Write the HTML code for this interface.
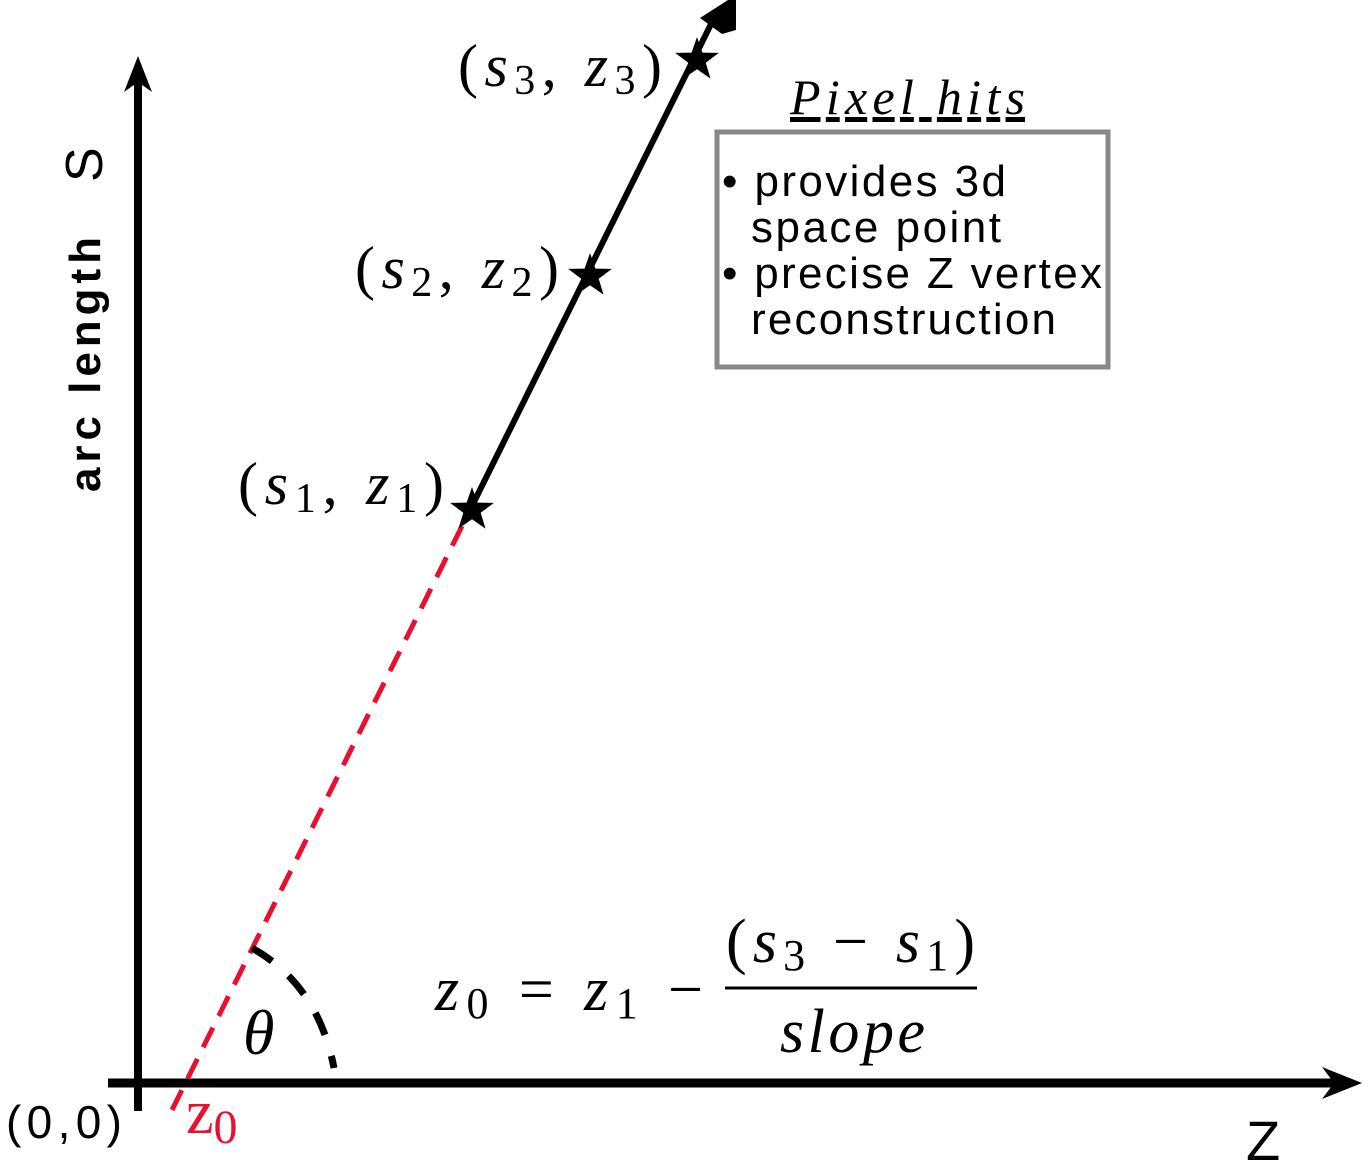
<!DOCTYPE html>
<html><head><meta charset="utf-8"><style>
html,body{margin:0;padding:0;background:#fff;}
svg{display:block;}
.m{font-family:"Liberation Serif",serif;font-style:italic;}
.r{font-family:"Liberation Serif",serif;}
.s{font-family:"Liberation Sans",sans-serif;}
</style></head><body>
<svg width="1372" height="1170" viewBox="0 0 1372 1170" xmlns="http://www.w3.org/2000/svg">
<defs>
<polygon id="star" points="0,-23 5.4,-7.4 21.9,-7.1 8.7,2.8 13.5,18.6 0,9.2 -13.5,18.6 -8.7,2.8 -21.9,-7.1 -5.4,-7.4"/>
</defs>
<line x1="138" y1="1111" x2="138" y2="80" stroke="#000" stroke-width="8"/>
<polygon points="138,56 124,92 138,82 152,92" fill="#000"/>
<line x1="108" y1="1083" x2="1335" y2="1083" stroke="#000" stroke-width="9"/>
<polygon points="1362,1083 1322,1067 1334,1083 1322,1099" fill="#000"/>
<line x1="172" y1="1110" x2="470" y2="510" stroke="#e8102e" stroke-width="5" stroke-dasharray="22,13"/>
<line x1="470" y1="510" x2="716" y2="14" stroke="#000" stroke-width="6"/>
<polygon points="728,0 700,18 722,34 736,30 736,0" fill="#000"/>
<use href="#star" x="472" y="510" fill="#000"/>
<use href="#star" x="590" y="276" fill="#000"/>
<use href="#star" x="697" y="60" fill="#000"/>
<path d="M252,948 Q318,985 334,1068" fill="none" stroke="#000" stroke-width="7" stroke-dasharray="24,22"/>
<text x="243" y="1054" class="m" font-size="64">θ</text>
<text x="458" y="86" class="m" font-size="60" textLength="204" lengthAdjust="spacing"><tspan font-style="normal">(</tspan>s<tspan font-size="42" font-style="normal" dy="8">3</tspan><tspan dy="-8" font-style="normal">, </tspan>z<tspan font-size="42" font-style="normal" dy="8">3</tspan><tspan dy="-8" font-style="normal">)</tspan></text>
<text x="355" y="288" class="m" font-size="60" textLength="204" lengthAdjust="spacing"><tspan font-style="normal">(</tspan>s<tspan font-size="42" font-style="normal" dy="8">2</tspan><tspan dy="-8" font-style="normal">, </tspan>z<tspan font-size="42" font-style="normal" dy="8">2</tspan><tspan dy="-8" font-style="normal">)</tspan></text>
<text x="238" y="504" class="m" font-size="60" textLength="206" lengthAdjust="spacing"><tspan font-style="normal">(</tspan>s<tspan font-size="42" font-style="normal" dy="8">1</tspan><tspan dy="-8" font-style="normal">, </tspan>z<tspan font-size="42" font-style="normal" dy="8">1</tspan><tspan dy="-8" font-style="normal">)</tspan></text>
<text transform="translate(100,492) rotate(-90)" class="s" font-size="44" font-weight="bold" textLength="255">arc length</text>
<text transform="translate(102,182) rotate(-90)" class="s" font-size="52">S</text>
<text x="1246" y="1160" class="s" font-size="56">Z</text>
<text x="6" y="1138" class="s" font-size="46" textLength="116">(0,0)</text>
<text x="186" y="1133" class="r" font-size="62" fill="#e8102e">z<tspan font-size="48" dy="10">0</tspan></text>
<text x="790" y="114" class="m" font-size="50" textLength="235" text-decoration="underline">Pixel hits</text>
<rect x="717" y="132" width="391" height="235" fill="#fff" stroke="#888" stroke-width="5"/>
<g class="s" font-size="44">
<text x="722" y="196" textLength="284">• provides 3d</text>
<text x="751" y="242" textLength="250">space point</text>
<text x="722" y="288" textLength="380">• precise Z vertex</text>
<text x="751" y="334" textLength="305">reconstruction</text>
</g>
<g>
<text x="435" y="1010" class="m" font-size="62" textLength="268" lengthAdjust="spacing">z<tspan font-size="44" font-style="normal" dy="8">0</tspan><tspan dy="-8" font-style="normal"> = </tspan>z<tspan font-size="44" font-style="normal" dy="8">1</tspan><tspan dy="-8" font-style="normal"> − </tspan></text>
<text x="726" y="962" class="m" font-size="62" textLength="249" lengthAdjust="spacing"><tspan font-style="normal">(</tspan>s<tspan font-size="44" font-style="normal" dy="8">3</tspan><tspan dy="-8" font-style="normal"> − </tspan>s<tspan font-size="44" font-style="normal" dy="8">1</tspan><tspan dy="-8" font-style="normal">)</tspan></text>
<line x1="725" y1="988" x2="977" y2="988" stroke="#000" stroke-width="3"/>
<text x="780" y="1052" class="m" font-size="62" textLength="145">slope</text>
</g>
</svg>
</body></html>
